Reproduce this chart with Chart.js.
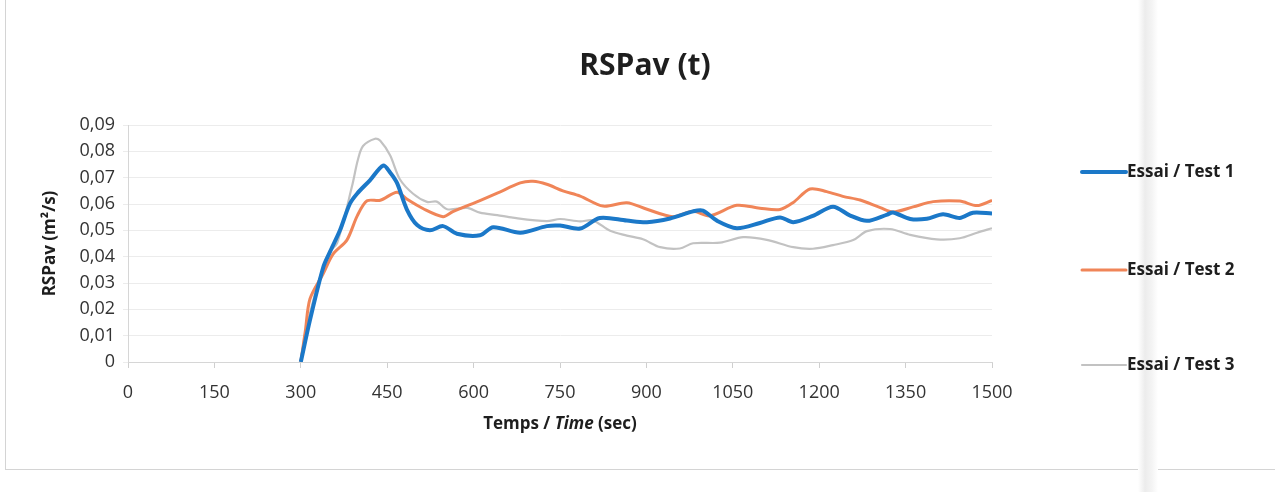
<!DOCTYPE html>
<html>
<head>
<meta charset="utf-8">
<script src="https://cdn.jsdelivr.net/npm/chart.js@4.4.0/dist/chart.umd.min.js"></script>
<style>
  html, body { margin: 0; background: #fff; }
  #wrap { position: relative; width: 1275px; height: 492px; overflow: hidden; }
  #frame { position: absolute; left: 5px; top: -2px; width: 1300px; height: 471px;
           border-left: 1px solid #d4d4d4; border-bottom: 1px solid #d4d4d4; }
  #fold { position: absolute; left: 1138px; top: 0; width: 20px; height: 492px;
          background: linear-gradient(to right, #fff, #ececec 35%, #f4f4f4 70%, #fff); }
  canvas { position: absolute; left: 0; top: 0; }
</style>
</head>
<body>
<div id="wrap">
  <div id="frame"></div>
  <div id="fold"></div>
  <canvas id="chart" width="1275" height="492"></canvas>
</div>
<script>
// Essai / Test 1
const test1Time = [300, 316, 339, 351, 368, 385, 398, 420, 443, 455, 467, 484, 502, 524, 547, 571, 611, 634, 681, 727,
  750, 785, 819, 866, 901, 941, 981, 998, 1023, 1057, 1097, 1132, 1155, 1189, 1224, 1253, 1283, 1318, 1328, 1358,
  1387, 1415, 1444, 1467, 1500];
const test1Val = [0, 0.016, 0.036, 0.042, 0.050, 0.060, 0.064, 0.069, 0.0746, 0.072, 0.068, 0.058, 0.052, 0.050, 0.0516, 0.0487, 0.0481, 0.0512, 0.0491, 0.0516,
  0.0518, 0.0507, 0.0547, 0.0537, 0.0531, 0.0545, 0.0572, 0.0575, 0.0536, 0.0508, 0.0528, 0.0549, 0.0531, 0.0555, 0.059, 0.0557, 0.0536, 0.056, 0.0568, 0.0543,
  0.0544, 0.0561, 0.0547, 0.0567, 0.0564];

// Essai / Test 2
const test2Time = [300, 308, 316, 339, 356, 380, 398, 415, 438, 467, 484, 512, 547, 564, 611, 641, 681, 703, 727, 755,
  785, 825, 866, 901, 946, 981, 1010, 1057, 1097, 1132, 1155, 1184, 1213, 1241, 1271, 1306, 1328, 1363, 1398, 1444,
  1474, 1500];
const test2Val = [0, 0.012, 0.024, 0.0336, 0.041, 0.0463, 0.0555, 0.0612, 0.0614, 0.0645, 0.0619, 0.0583, 0.0552, 0.0571, 0.0613, 0.0641, 0.068, 0.0686, 0.0675, 0.065,
  0.063, 0.0592, 0.0605, 0.058, 0.0552, 0.0572, 0.0555, 0.0595, 0.0584, 0.0579, 0.0606, 0.0657, 0.0647, 0.0629, 0.0615, 0.0586, 0.057, 0.0589, 0.0609, 0.0611,
  0.0594, 0.0614];

// Essai / Test 3
const test3Time = [300, 307, 330, 351, 363, 389, 399, 408, 429, 438, 455, 472, 495, 519, 536, 554, 589, 611, 641, 668,
  727, 750, 785, 807, 837, 866, 894, 924, 958, 981, 1028, 1068, 1109, 1155, 1189, 1224, 1259, 1283, 1323, 1358,
  1404, 1444, 1474, 1500];
const test3Val = [0, 0.01, 0.03, 0.042, 0.0451, 0.0668, 0.0767, 0.082, 0.0848, 0.084, 0.0785, 0.0694, 0.0639, 0.0608, 0.0609, 0.058, 0.0585, 0.0567, 0.0558, 0.0548,
  0.0535, 0.0543, 0.0534, 0.0538, 0.0498, 0.048, 0.0466, 0.0436, 0.0431, 0.0451, 0.0453, 0.0474, 0.0464, 0.0436, 0.043, 0.0444, 0.0463, 0.0497, 0.0505, 0.0483,
  0.0466, 0.047, 0.0491, 0.0508];

const seriesNames = ['Essai / Test 1', 'Essai / Test 2', 'Essai / Test 3'];
const xTicks = [0, 150, 300, 450, 600, 750, 900, 1050, 1200, 1350, 1500];
const yTicks = [0, 0.01, 0.02, 0.03, 0.04, 0.05, 0.06, 0.07, 0.08, 0.09];

const FONT = "'Open Sans', 'DejaVu Sans', sans-serif";

const toPoints = (t, v) => t.map((x, i) => ({ x: x, y: v[i] }));

// chart title, centred on the whole page rather than the plot
const pageTitle = {
  id: 'pageTitle',
  afterDraw(chart) {
    const ctx = chart.ctx;
    ctx.save();
    ctx.fillStyle = '#1e1e1e';
    ctx.font = 'bold 30px ' + FONT;
    ctx.textAlign = 'center';
    ctx.textBaseline = 'middle';
    ctx.fillText('RSPav (t)', 645, 66);
    ctx.restore();
  }
};

// legend drawn on the right, one item per dataset
const sideLegend = {
  id: 'sideLegend',
  afterDraw(chart) {
    const ctx = chart.ctx;
    const rows = [172, 270, 365];
    ctx.save();
    chart.data.datasets.forEach((ds, i) => {
      const y = rows[i];
      ctx.strokeStyle = ds.borderColor;
      ctx.lineWidth = ds.borderWidth;
      ctx.lineCap = 'round';
      ctx.beginPath();
      ctx.moveTo(1082, y);
      ctx.lineTo(1126, y);
      ctx.stroke();
      ctx.fillStyle = '#1e1e1e';
      ctx.font = 'bold 17px ' + FONT;
      ctx.textBaseline = 'middle';
      ctx.textAlign = 'left';
      ctx.fillText(ds.label, 1127, y);
    });
    ctx.restore();
  }
};

// x axis title with italic "Time"
const xTitle = {
  id: 'xTitle',
  afterDraw(chart) {
    const ctx = chart.ctx;
    const area = chart.chartArea;
    const parts = [
      ['Temps / ', 'bold 17px ' + FONT],
      ['Time', 'italic bold 17px ' + FONT],
      [' (sec)', 'bold 17px ' + FONT]
    ];
    ctx.save();
    let total = 0;
    parts.forEach(p => { ctx.font = p[1]; total += ctx.measureText(p[0]).width; });
    let x = (area.left + area.right) / 2 - total / 2;
    ctx.fillStyle = '#1e1e1e';
    ctx.textBaseline = 'middle';
    ctx.textAlign = 'left';
    parts.forEach(p => {
      ctx.font = p[1];
      ctx.fillText(p[0], x, 424);
      x += ctx.measureText(p[0]).width;
    });
    ctx.restore();
  }
};

new Chart(document.getElementById('chart'), {
  type: 'line',
  data: {
    datasets: [
      {
        label: seriesNames[0],
        data: toPoints(test1Time, test1Val),
        borderColor: '#1b78c8',
        borderWidth: 4,
        pointRadius: 0,
        tension: 0.3,
        fill: false
      },
      {
        label: seriesNames[1],
        data: toPoints(test2Time, test2Val),
        borderColor: '#f08558',
        borderWidth: 3,
        pointRadius: 0,
        tension: 0.3,
        fill: false
      },
      {
        label: seriesNames[2],
        data: toPoints(test3Time, test3Val),
        borderColor: '#c2c2c2',
        borderWidth: 2.2,
        pointRadius: 0,
        tension: 0.3,
        fill: false
      }
    ]
  },
  options: {
    responsive: false,
    animation: false,
    layout: { padding: { left: 0, right: 283, top: 125, bottom: 0 } },
    plugins: {
      legend: { display: false },
      tooltip: { enabled: false },
      title: { display: false }
    },
    scales: {
      x: {
        type: 'linear',
        min: 0,
        max: 1500,
        afterBuildTicks: s => { s.ticks = xTicks.map(v => ({ value: v })); },
        afterFit: s => { s.height = 130; },
        ticks: {
          color: '#333',
          font: { family: FONT, size: 18 },
          padding: 14,
          maxRotation: 0,
          callback: v => String(v)
        },
        grid: { drawOnChartArea: false, tickLength: 6, color: '#cfcfcf' },
        border: { color: '#d6d6d6' }
      },
      y: {
        min: 0,
        max: 0.09,
        afterBuildTicks: s => { s.ticks = yTicks.map(v => ({ value: v })); },
        afterFit: s => { s.width = 128; },
        ticks: {
          color: '#333',
          font: { family: FONT, size: 18 },
          padding: 8,
          callback: v => v === 0 ? '0' : v.toFixed(2).replace('.', ',')
        },
        grid: { color: '#ececec', tickLength: 5 },
        border: { color: '#d6d6d6' },
        title: {
          display: true,
          text: 'RSPav (m\u00b2/s)',
          color: '#1e1e1e',
          font: { family: FONT, size: 17, weight: 'bold' },
          padding: { top: 40, bottom: 0 }
        }
      }
    }
  },
  plugins: [pageTitle, sideLegend, xTitle]
});
</script>
</body>
</html>
